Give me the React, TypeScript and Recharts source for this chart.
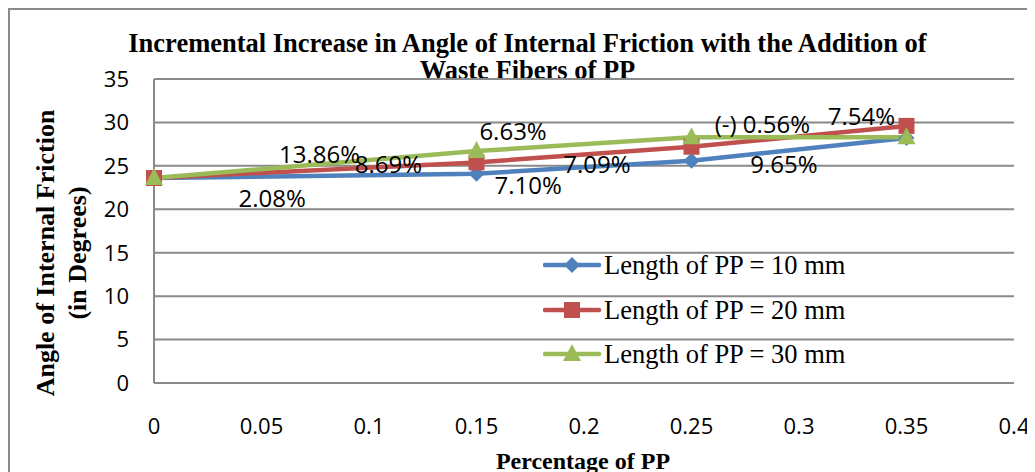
import React from 'react';
import {
  LineChart,
  Line,
  XAxis,
  YAxis,
  CartesianGrid,
  ReferenceDot,
} from 'recharts';

// fibre content (fraction) and friction angle per fibre length
const fibreContent = [0, 0.15, 0.25, 0.35];
const len10 = [23.6, 24.1, 25.6, 28.2];
const len20 = [23.6, 25.4, 27.2, 29.6];
const len30 = [23.6, 26.7, 28.3, 28.3];

const xTicks = [0, 0.05, 0.1, 0.15, 0.2, 0.25, 0.3, 0.35, 0.4];
const yTicks = [0, 5, 10, 15, 20, 25, 30, 35];

// increment labels, placed in data units
const increments = [
  { x: 0.055, y: 21.4, text: '2.08%' },
  { x: 0.077, y: 26.4, text: '13.86%' },
  { x: 0.109, y: 25.3, text: '8.69%' },
  { x: 0.167, y: 29.1, text: '6.63%' },
  { x: 0.174, y: 22.8, text: '7.10%' },
  { x: 0.206, y: 25.3, text: '7.09%' },
  { x: 0.283, y: 29.9, text: '(-) 0.56%' },
  { x: 0.329, y: 30.85, text: '7.54%' },
  { x: 0.293, y: 25.3, text: '9.65%' },
];

const data = fibreContent.map((x, i) => ({
  x,
  len10: len10[i],
  len20: len20[i],
  len30: len30[i],
}));

const BLUE = '#4F81BD';
const RED = '#C0504D';
const GREEN = '#9BBB59';
const GRID = '#8a8a8a';
const serif = '"Liberation Serif", "Times New Roman", serif';
const sans = '"Open Sans", Calibri, sans-serif';

const Diamond = ({ cx, cy }: any) => (
  <polygon points={`${cx},${cy - 8} ${cx + 8},${cy} ${cx},${cy + 8} ${cx - 8},${cy}`} fill={BLUE} />
);
const Square = ({ cx, cy }: any) => (
  <rect x={cx - 8} y={cy - 8} width={16} height={16} fill={RED} />
);
const Triangle = ({ cx, cy }: any) => (
  <polygon points={`${cx},${cy - 10} ${cx + 9},${cy + 7} ${cx - 9},${cy + 7}`} fill={GREEN} />
);

const legendItems = [
  { name: 'Length of PP = 10 mm', color: BLUE, Marker: Diamond },
  { name: 'Length of PP = 20 mm', color: RED, Marker: Square },
  { name: 'Length of PP = 30 mm', color: GREEN, Marker: Triangle },
];

const IncrementText = (text: string) => (props: any) => (
  <text
    x={props.cx}
    y={props.cy}
    textAnchor="middle"
    dominantBaseline="central"
    fontFamily={sans}
    fontSize={24}
    fill="#000"
  >
    {text}
  </text>
);

export default function App() {
  return (
    <div style={{ position: 'relative', width: 1027, height: 464, overflow: 'hidden' }}>
      <div
        style={{
          position: 'absolute',
          left: 0,
          top: 0,
          width: 1200,
          height: 600,
          border: `2px solid ${GRID}`,
          boxSizing: 'border-box',
        }}
      />
      <div
        style={{
          position: 'absolute',
          left: 0,
          top: 22,
          width: 1039,
          textAlign: 'center',
          fontFamily: serif,
          fontWeight: 'bold',
          fontSize: 26.5,
          lineHeight: '27px',
          color: '#000',
        }}
      >
        Incremental Increase in Angle of Internal Friction with the Addition of
        <br />
        Waste Fibers of PP
      </div>
      <div
        style={{
          position: 'absolute',
          left: 54,
          top: 213,
          width: 340,
          marginLeft: -170,
          transform: 'rotate(-90deg)',
          textAlign: 'center',
          fontFamily: serif,
          fontWeight: 'bold',
          fontSize: 26,
          lineHeight: '32px',
          color: '#000',
        }}
      >
        Angle of Internal Friction
        <br />
        (in Degrees)
      </div>
      <div
        style={{
          position: 'absolute',
          left: 0,
          top: 440,
          width: 1150,
          textAlign: 'center',
          fontFamily: serif,
          fontWeight: 'bold',
          fontSize: 24,
          color: '#000',
        }}
      >
        Percentage of PP
      </div>
      <LineChart
        width={1027}
        height={464}
        data={data}
        margin={{ top: 71, right: 21, bottom: 29, left: 0 }}
        style={{ position: 'absolute', left: 0, top: 0 }}
      >
        <CartesianGrid vertical={false} stroke={GRID} strokeWidth={2} />
        <XAxis
          dataKey="x"
          type="number"
          domain={[0, 0.4]}
          ticks={xTicks}
          height={60}
          tickSize={0}
          tickMargin={35}
          stroke={GRID}
          strokeWidth={2}
          tick={{ fontFamily: sans, fontSize: 22, fill: '#000' }}
        />
        <YAxis
          domain={[0, 35]}
          ticks={yTicks}
          width={146}
          tickSize={0}
          tickMargin={25}
          stroke={GRID}
          strokeWidth={2}
          tick={{ fontFamily: sans, fontSize: 22, fill: '#000' }}
        />
        <Line
          dataKey="len10"
          name="Length of PP = 10 mm"
          stroke={BLUE}
          strokeWidth={4.5}
          dot={<Diamond />}
          activeDot={false}
          isAnimationActive={false}
        />
        <Line
          dataKey="len20"
          name="Length of PP = 20 mm"
          stroke={RED}
          strokeWidth={4.5}
          dot={<Square />}
          activeDot={false}
          isAnimationActive={false}
        />
        <Line
          dataKey="len30"
          name="Length of PP = 30 mm"
          stroke={GREEN}
          strokeWidth={4.5}
          dot={<Triangle />}
          activeDot={false}
          isAnimationActive={false}
        />
        {increments.map((d) => (
          <ReferenceDot key={d.text} x={d.x} y={d.y} r={0} shape={IncrementText(d.text)} />
        ))}
      </LineChart>
      <div style={{ position: 'absolute', left: 535, top: 235 }}>
        {legendItems.map(({ name, color, Marker }) => (
          <div key={name} style={{ display: 'flex', alignItems: 'center', height: 44.5 }}>
            <svg width={60} height={24}>
              <line x1={2} y1={12} x2={56} y2={12} stroke={color} strokeWidth={4.5} strokeLinecap="round" />
              <Marker cx={29} cy={12} />
            </svg>
            <span style={{ fontFamily: serif, fontSize: 26.5, color: '#000', marginLeft: 1, lineHeight: '30px' }}>
              {name}
            </span>
          </div>
        ))}
      </div>
    </div>
  );
}
